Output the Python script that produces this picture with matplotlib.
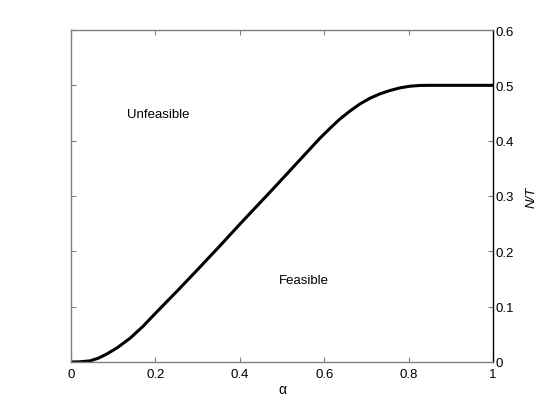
import matplotlib
matplotlib.use("Agg")
import matplotlib.pyplot as plt

plt.rcParams['font.family'] = ['Liberation Sans', 'DejaVu Sans']

alpha = [0, 0.02, 0.045, 0.065, 0.085, 0.11, 0.14, 0.17, 0.2, 0.25, 0.3, 0.353, 0.4,
         0.479, 0.542, 0.59, 0.614, 0.637, 0.661, 0.685, 0.708, 0.732, 0.756, 0.78, 0.803, 0.827,
         0.85, 0.9, 1.0]
nt = [0, 0.0003, 0.002, 0.007, 0.0145, 0.026, 0.043, 0.064, 0.088, 0.127, 0.167, 0.210, 0.249,
      0.313, 0.365, 0.4045, 0.4225, 0.439, 0.4535, 0.4665, 0.4765, 0.4846, 0.4907, 0.4955, 0.4984, 0.4998,
      0.5, 0.5, 0.5]
xticks = [0, 0.2, 0.4, 0.6, 0.8, 1]
xticklabels = ['0', '0.2', '0.4', '0.6', '0.8', '1']
yticks = [0, 0.1, 0.2, 0.3, 0.4, 0.5, 0.6]
yticklabels = ['0', '0.1', '0.2', '0.3', '0.4', '0.5', '0.6']

fig = plt.figure(figsize=(5.45, 4.10), dpi=100)
ax = fig.add_axes([71/545, 1-363/410, (493-71)/545, (363-31)/410])
ax.plot(alpha, nt, color='black', lw=2.2, solid_joinstyle='round', solid_capstyle='round')
ax.set_xlim(0, 1)
ax.set_ylim(0, 0.6)
ax.set_xticks(xticks)
ax.set_xticklabels(xticklabels)
ax.set_yticks(yticks)
ax.set_yticklabels(yticklabels)
ax.yaxis.tick_right()
ax.yaxis.set_label_position('right')
ax.tick_params(axis='both', direction='in', length=3.5, labelsize=9.5, width=0.8)
ax.tick_params(axis='x', top=True, bottom=True, colors='#808080', labelcolor='black', pad=4)
ax.tick_params(axis='y', left=True, right=True, labelleft=False, labelright=True,
               colors='#808080', labelcolor='black', pad=2)
for s in ['left', 'top', 'bottom']:
    ax.spines[s].set_color('#808080')
    ax.spines[s].set_linewidth(1.0)
ax.spines['right'].set_color('black')
ax.spines['right'].set_linewidth(1.0)
ax.set_xlabel('α', fontsize=10, labelpad=2)
ax.set_ylabel('N/T', fontsize=9.5, style='italic', labelpad=8)
ax.text(0.206, 0.448, 'Unfeasible', fontsize=9.5, ha='center', va='center')
ax.text(0.552, 0.148, 'Feasible', fontsize=9.5, ha='center', va='center')
fig.savefig('out.png', dpi=100)
